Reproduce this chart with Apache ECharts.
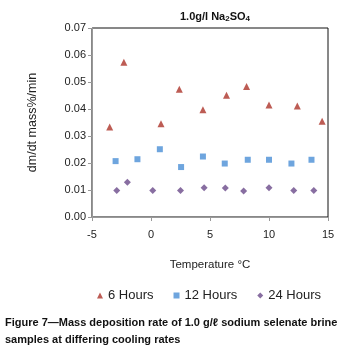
<!DOCTYPE html>
<html>
<head>
<meta charset="utf-8">
<script src="https://cdn.jsdelivr.net/npm/echarts@6/dist/echarts.min.js"></script>
<style>
  html, body { margin: 0; padding: 0; background: #fff; }
  #chart { width: 344px; height: 347px; }
</style>
</head>
<body>
<div id="chart"></div>
<script>
// values: [temperature °C, dm/dt mass%/min]
const sixHours = [
  [-3.5, 0.0333], [-2.3, 0.0573], [0.85, 0.0345], [2.4, 0.0473], [4.4, 0.0397],
  [6.4, 0.0451], [8.1, 0.0483], [10.0, 0.0415], [12.4, 0.0411], [14.5, 0.0355]
];
const twelveHours = [
  [-3.0, 0.0207], [-1.15, 0.0214], [0.75, 0.0251], [2.55, 0.0185], [4.4, 0.0224],
  [6.25, 0.0198], [8.2, 0.0212], [10.0, 0.0212], [11.9, 0.0198], [13.6, 0.0212]
];
const twentyFourHours = [
  [-2.9, 0.0098], [-2.0, 0.0129], [0.15, 0.0098], [2.5, 0.0098], [4.5, 0.0108],
  [6.3, 0.0107], [7.85, 0.0096], [10.0, 0.0108], [12.1, 0.0098], [13.8, 0.0098]
];
const seriesNames = ['6 Hours', '12 Hours', '24 Hours'];

const font = 'Liberation Sans, Arial, sans-serif';
const chart = echarts.init(document.getElementById('chart'));

chart.setOption({
  animation: false,
  textStyle: { fontFamily: font },
  title: [
    {
      text: '{b|1.0g/l Na}{s|2}{b|SO}{s|4}',
      left: 210, top: 6, textAlign: 'center',
      textStyle: {
        rich: {
          b: { fontFamily: font, fontWeight: 'bold', fontSize: 11, color: '#111' },
          s: { fontFamily: font, fontWeight: 'bold', fontSize: 8, color: '#111', verticalAlign: 'bottom', padding: [4, 0, 0, 0] }
        }
      }
    },
    {
      text: 'Figure 7\u2014Mass deposition rate of 1.0 g/\u2113 sodium selenate brine\nsamples at differing cooling rates',
      left: 0, top: 309,
      textStyle: { fontFamily: font, fontWeight: 'bold', fontSize: 11, lineHeight: 17, color: '#111' }
    }
  ],
  legend: {
    data: seriesNames,
    left: 92, top: 284,
    itemWidth: 6, itemHeight: 6, itemGap: 20,
    textStyle: { fontFamily: font, fontSize: 13, color: '#222' }
  },
  grid: {
    left: 92, right: 16, top: 28, bottom: 130,
    show: true, borderColor: '#111', borderWidth: 1
  },
  xAxis: {
    type: 'value', min: -5, max: 15, interval: 5,
    name: 'Temperature \u00b0C', nameLocation: 'middle', nameGap: 42,
    nameTextStyle: { fontFamily: font, fontSize: 11.5, color: '#222' },
    axisLine: { show: true, onZero: false, lineStyle: { color: '#999' } },
    axisTick: { show: true, length: 4, lineStyle: { color: '#999' } },
    axisLabel: { fontFamily: font, fontSize: 11, color: '#222', margin: 12 },
    splitLine: { show: false }
  },
  yAxis: {
    type: 'value', min: 0, max: 0.07, interval: 0.01,
    name: 'dm/dt mass%/min', nameLocation: 'middle', nameGap: 53,
    nameTextStyle: { fontFamily: font, fontSize: 12.5, color: '#222' },
    axisLine: { show: true, onZero: false, lineStyle: { color: '#999' } },
    axisTick: { show: true, length: 4, lineStyle: { color: '#999' } },
    axisLabel: { fontFamily: font, fontSize: 11, color: '#222', margin: 6,
      formatter: v => v.toFixed(2) },
    splitLine: { show: false }
  },
  series: [
    { name: seriesNames[0], type: 'scatter', data: sixHours, symbol: 'triangle', symbolSize: 7,
      itemStyle: { color: '#ad3329' } },
    { name: seriesNames[1], type: 'scatter', data: twelveHours, symbol: 'rect', symbolSize: 6,
      itemStyle: { color: '#4a8fd6' } },
    { name: seriesNames[2], type: 'scatter', data: twentyFourHours, symbol: 'diamond', symbolSize: 7,
      itemStyle: { color: '#6a4a8a' } }
  ]
});
</script>
</body>
</html>
